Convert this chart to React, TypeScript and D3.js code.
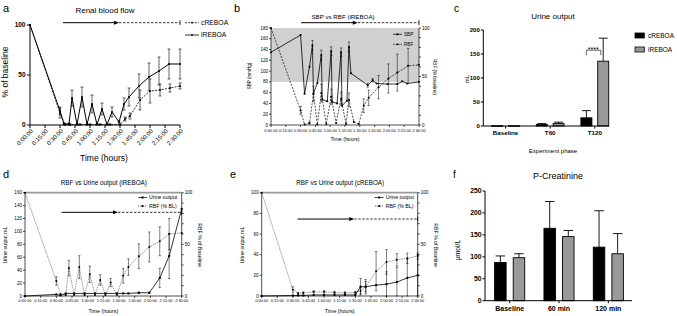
import React from "react";
import * as d3 from "d3";

const FONT = "'Liberation Sans', Arial, Helvetica, sans-serif";

// ---------- shared time axis ----------
const timeTicks = [0, 15, 30, 45, 60, 75, 90, 105, 120, 135, 150];
const timeTickLabels = ["0:00:00", "0:15:00", "0:30:00", "0:45:00", "1:00:00", "1:15:00", "1:30:00", "1:45:00", "2:00:00", "2:15:00", "2:30:00"];
const occlusionStart = 33;
const occlusionEnd = 89;

// ---------- panel a : renal blood flow ----------
const aYTicks = [0, 50, 100];
const aITime = [0, 30, 34, 39, 42, 47, 52, 57, 62, 67, 72, 77, 82, 89, 94, 99, 109, 119, 129, 139, 150];
const aIVal = [100, 14, 1, 1, 27, 0.5, 28, 0.5, 21, 0.5, 16, 0.5, 13, 3, 21, 28, 39, 48, 54, 61, 61];
const aIErr = [0, 4, 1, 1, 8, 0.5, 10, 0.5, 9, 0.5, 6, 0.5, 5, 1, 6, 9, 12, 14, 14, 15, 15];
const aCTime = [0, 30, 35, 40, 50, 60, 70, 80, 90, 95, 100, 110, 120, 130, 140, 150];
const aCVal = [100, 12, 0.5, 0.5, 0.5, 0.5, 0.5, 0.5, 0.5, 6, 9, 25, 34, 35, 37, 39];
const aCErr = [0, 5, 0.5, 0.5, 0.5, 0.5, 0.5, 0.5, 0.5, 2, 3, 10, 12, 6, 4, 3];

// ---------- panel b : SBP vs RBF (iREBOA) ----------
const bLeftTicks = [0, 20, 40, 60, 80, 100, 120, 140, 160, 180];
const bRightTicks = [0, 10, 20, 30, 40, 50, 60, 70, 80, 90, 100];
const bRightLabelTicks = [0, 50, 100];
const bBand = [80, 180];
const bSbpTime = [0, 30, 34, 39, 42, 43, 47, 51, 52, 57, 61, 62, 67, 71, 72, 77, 79, 81, 98, 103, 107, 118, 128, 133, 138, 150];
const bSbpVal = [135, 167, 58, 108, 148, 58, 78, 130, 47, 44, 137, 43, 40, 135, 36, 45, 145, 96, 74, 83, 77, 76, 76, 81, 77, 80];
const bSbpErr = [0, 0, 0, 0, 9, 0, 0, 9, 0, 0, 8, 0, 0, 8, 0, 0, 9, 0, 4, 3, 0, 0, 0, 0, 0, 0];
const bRbfTime = [0, 30, 34, 39, 43, 47, 51, 56, 61, 66, 71, 76, 79, 84, 89, 94, 99, 109, 119, 128, 139, 150];
const bRbfVal = [100, 15, 0.5, 2, 32, 0.5, 33, 1, 29, 2, 27, 1, 26, 3, 1, 20, 28, 39, 48, 54, 61, 62];
const bRbfErr = [0, 4, 0, 1, 8, 0, 9, 0, 8, 0, 7, 0, 7, 0, 0, 7, 8, 12, 15, 19, 18, 0];

// ---------- panel c : urine output ----------
const cCats = ["Baseline", "T60", "T120"];
const cYTicks = [0, 50, 100, 150, 200];
const cCVal = [0.5, 3, 17];
const cCErr = [0, 2, 15];
const cIVal = [0.5, 5, 135];
const cIErr = [0, 3, 48];

// ---------- panel d : RBF vs urine output (iREBOA) ----------
const dLeftTicks = [0, 20, 40, 60, 80, 100, 120, 140, 160];
const dUrTime = [0, 30, 34, 39, 47, 57, 67, 77, 88, 94, 99, 109, 119, 129, 138, 150];
const dUrVal = [0, 2.5, 1, 4, 4, 4, 4, 4, 4, 4, 4, 5, 5, 28, 62, 135];
const dUrErr = [0, 0, 0, 0, 0, 0, 0, 0, 0, 0, 0, 1, 1, 15, 35, 0];
const dRbfTime = [0, 30, 34, 39, 42, 47, 52, 57, 62, 67, 72, 77, 82, 88, 94, 99, 109, 119, 129, 138, 150];
const dRbfVal = [100, 14.5, 2, 1, 27, 1, 28, 1, 21, 1, 15.5, 1, 13, 1, 19.5, 28, 38.5, 47.5, 53, 60, 61];
const dRbfErr = [0, 4, 0, 0, 7.5, 0, 11, 0, 8, 0, 5, 0, 4, 0, 7, 8, 12, 14.5, 14, 15, 0];

// ---------- panel e : RBF vs urine output (cREBOA) ----------
const eLeftTicks = [0, 20, 40, 60, 80, 100];
const eTime = [0, 30, 35, 40, 50, 60, 70, 80, 90, 95, 100, 110, 120, 130, 140, 150];
const eUrVal = [0, 0.5, 0.5, 0.5, 1, 1, 1, 1, 1, 9, 9, 10.5, 11.5, 13.5, 17.5, 20];
const eUrErr = [0, 0, 0, 0, 0, 0, 0, 0, 0, 8, 7, 0, 12, 14, 18, 20];
const eRbfVal = [100, 6, 2.5, 3, 4, 4, 3.5, 3, 3.5, 5, 9, 24, 33, 35, 36.5, 38.7];
const eRbfErr = [0, 3, 1, 1, 1, 1, 1, 1, 1, 3, 5, 19, 12, 6, 5, 3];

// ---------- panel f : P-creatinine ----------
const fCats = ["Baseline", "60 min", "120 min"];
const fYTicks = [0, 50, 100, 150, 200, 250];
const fCVal = [87, 165, 122];
const fCErr = [15, 61, 83];
const fIVal = [98, 146, 107];
const fIErr = [9, 14, 46];

const rbfRightTicks = [0, 10, 20, 30, 40, 50, 60, 70, 80, 90, 100];
const rbfRightLabelTicks = [0, 50, 100];

function ErrorBars({ xs, ys, errs, x, y, cap = 1.5, sw = 0.6, floor = 0, color = "#000" }: any) {
  return (
    <g stroke={color} strokeWidth={sw}>
      {xs.map((t: number, i: number) => {
        const e = errs[i];
        if (!e) return null;
        const cx = x(t);
        const top = y(ys[i] + e);
        const bot = y(Math.max(floor, ys[i] - e));
        return (
          <g key={i}>
            <line x1={cx} x2={cx} y1={top} y2={bot} />
            <line x1={cx - cap} x2={cx + cap} y1={top} y2={top} />
            <line x1={cx - cap} x2={cx + cap} y1={bot} y2={bot} />
          </g>
        );
      })}
    </g>
  );
}

function LineSeries({ xs, ys, x, y, sw = 1, dash, stroke = "#000" }: any) {
  const d = d3.line()(xs.map((t: number, i: number) => [x(t), y(ys[i])] as [number, number]));
  return <path d={d || ""} fill="none" stroke={stroke} strokeWidth={sw} strokeDasharray={dash} strokeLinejoin="round" />;
}

function Markers({ xs, ys, x, y, shape = "circle", size = 1.2, fill = "#000" }: any) {
  return (
    <g fill={fill}>
      {xs.map((t: number, i: number) =>
        shape === "circle" ? (
          <circle key={i} cx={x(t)} cy={y(ys[i])} r={size} />
        ) : (
          <rect key={i} x={x(t) - size} y={y(ys[i]) - size} width={size * 2} height={size * 2} />
        )
      )}
    </g>
  );
}

function Arrow({ x1, x2, x3, y, head = 5, hw = 2, sw = 1 }: any) {
  return (
    <g>
      <line x1={x1} x2={x2 - head + 0.5} y1={y} y2={y} stroke="#000" strokeWidth={sw} />
      <polygon points={`${x2},${y} ${x2 - head},${y - hw} ${x2 - head},${y + hw}`} fill="#000" />
      <line x1={x2} x2={x3} y1={y} y2={y} stroke="#000" strokeWidth={sw * 0.8} strokeDasharray="2.5,1.5" />
      <line x1={x3} x2={x3} y1={y - 2.5} y2={y + 2.5} stroke="#000" strokeWidth={0.8} />
    </g>
  );
}

function AxisLeft({ scale, x, ticks, labelTicks, fs, len = 2.5, sw = 0.8, gap = 1, bold = false }: any) {
  const r = scale.range();
  const lt = labelTicks || ticks;
  return (
    <g>
      <line x1={x} x2={x} y1={r[0]} y2={r[1]} stroke="#000" strokeWidth={sw} />
      {ticks.map((t: number, i: number) => (
        <line key={i} x1={x - len} x2={x} y1={scale(t)} y2={scale(t)} stroke="#000" strokeWidth={sw} />
      ))}
      {lt.map((t: number, i: number) => (
        <text key={"l" + i} x={x - len - gap} y={scale(t)} dy="0.35em" textAnchor="end" fontSize={fs} fontWeight={bold ? "bold" : "normal"}>
          {String(t)}
        </text>
      ))}
    </g>
  );
}

function AxisRight({ scale, x, ticks, labelTicks, fs, len = 2, sw = 0.7, gap = 1 }: any) {
  const r = scale.range();
  const lt = labelTicks || ticks;
  return (
    <g>
      <line x1={x} x2={x} y1={r[0]} y2={r[1]} stroke="#000" strokeWidth={sw} />
      {ticks.map((t: number, i: number) => (
        <line key={i} x1={x} x2={x + len} y1={scale(t)} y2={scale(t)} stroke="#000" strokeWidth={sw} />
      ))}
      {lt.map((t: number, i: number) => (
        <text key={"l" + i} x={x + len + gap} y={scale(t)} dy="0.35em" textAnchor="start" fontSize={fs}>
          {String(t)}
        </text>
      ))}
    </g>
  );
}

function TimeAxisFlat({ x, y0, fs, len = 2, sw = 0.7 }: any) {
  const r = x.range();
  return (
    <g>
      <line x1={r[0]} x2={r[1]} y1={y0} y2={y0} stroke="#000" strokeWidth={sw} />
      {timeTicks.map((t, i) => (
        <line key={i} x1={x(t)} x2={x(t)} y1={y0} y2={y0 + len} stroke="#000" strokeWidth={sw} />
      ))}
      {timeTicks.map((t, i) => (
        <text key={"l" + i} x={x(t)} y={y0 + len + fs + 0.5} textAnchor="middle" fontSize={fs}>
          {timeTickLabels[i]}
        </text>
      ))}
    </g>
  );
}

function LegendItem({ x, y, w, label, dash, shape = "circle", fs, sw = 0.8, ms = 1.2 }: any) {
  return (
    <g>
      <line x1={x} x2={x + w} y1={y} y2={y} stroke="#000" strokeWidth={sw} strokeDasharray={dash} />
      {shape === "circle" ? (
        <circle cx={x + w / 2} cy={y} r={ms} fill="#000" />
      ) : (
        <rect x={x + w / 2 - ms} y={y - ms} width={ms * 2} height={ms * 2} fill="#000" />
      )}
      <text x={x + w + 2} y={y} dy="0.35em" fontSize={fs}>
        {label}
      </text>
    </g>
  );
}

function PanelA() {
  const x = d3.scaleLinear().domain([0, 150]).range([30, 180]);
  const y = d3.scaleLinear().domain([0, 100]).range([125, 25]);
  return (
    <g>
      <text x={3} y={12} fontSize={11}>a</text>
      <text x={105} y={13} fontSize={8} textAnchor="middle">Renal blood flow</text>
      <Arrow x1={x(occlusionStart)} x2={x(occlusionEnd)} x3={x(150)} y={y(102.3)} />
      <AxisLeft scale={y} x={30} ticks={aYTicks} fs={6.5} len={3} sw={1} gap={1.5} bold />
      <line x1={30} x2={180} y1={125} y2={125} stroke="#000" strokeWidth={1} />
      {timeTicks.map((t, i) => (
        <g key={i}>
          <line x1={x(t)} x2={x(t)} y1={125} y2={128} stroke="#000" strokeWidth={1} />
          <text transform={`translate(${x(t) + 2},${130}) rotate(-45)`} textAnchor="end" dy="0.35em" fontSize={6}>
            {timeTickLabels[i]}
          </text>
        </g>
      ))}
      <ErrorBars xs={aCTime} ys={aCVal} errs={aCErr} x={x} y={y} cap={1.5} />
      <ErrorBars xs={aITime} ys={aIVal} errs={aIErr} x={x} y={y} cap={1.5} />
      <LineSeries xs={aCTime} ys={aCVal} x={x} y={y} sw={0.8} dash="2,1.3" />
      <LineSeries xs={aITime} ys={aIVal} x={x} y={y} sw={1} />
      <Markers xs={aCTime} ys={aCVal} x={x} y={y} size={1} />
      <Markers xs={aITime} ys={aIVal} x={x} y={y} size={1} />
      <text transform="translate(8,72) rotate(-90)" textAnchor="middle" fontSize={8.5}>% of baseline</text>
      <text x={104} y={161} textAnchor="middle" fontSize={8.5}>Time (hours)</text>
      <LegendItem x={185} y={22.7} w={14} label="cREBOA" dash="2,1.3" fs={6.8} ms={0.9} />
      <LegendItem x={185} y={35} w={14} label="iREBOA" fs={6.8} ms={0.9} />
    </g>
  );
}

function PanelB() {
  const x = d3.scaleLinear().domain([0, 150]).range([271, 419]);
  const yL = d3.scaleLinear().domain([0, 180]).range([125, 28]);
  const yR = d3.scaleLinear().domain([0, 100]).range([125, 28]);
  return (
    <g>
      <text x={234} y={12} fontSize={11}>b</text>
      <text x={343} y={19} fontSize={6.2} textAnchor="middle">SBP vs RBF (iREBOA)</text>
      <Arrow x1={x(occlusionStart - 2.5)} x2={x(occlusionEnd - 1)} x3={x(150)} y={22.7} head={5} />
      <rect x={271} y={yL(bBand[1])} width={148} height={yL(bBand[0]) - yL(bBand[1])} fill="#d0d0d0" />
      <AxisLeft scale={yL} x={271} ticks={bLeftTicks} fs={4.5} len={2} sw={0.7} gap={1} />
      <AxisRight scale={yR} x={419} ticks={bRightTicks} labelTicks={bRightLabelTicks} fs={4.5} len={2} sw={0.7} gap={1} />
      <TimeAxisFlat x={x} y0={125} fs={4} len={2} />
      <ErrorBars xs={bRbfTime} ys={bRbfVal} errs={bRbfErr} x={x} y={yR} cap={1.2} sw={0.5} />
      <ErrorBars xs={bSbpTime} ys={bSbpVal} errs={bSbpErr} x={x} y={yL} cap={1.2} sw={0.5} />
      <LineSeries xs={bRbfTime} ys={bRbfVal} x={x} y={yR} sw={0.7} dash="2,1.3" />
      <LineSeries xs={bSbpTime} ys={bSbpVal} x={x} y={yL} sw={0.8} />
      <Markers xs={bRbfTime} ys={bRbfVal} x={x} y={yR} size={1} />
      <Markers xs={bSbpTime} ys={bSbpVal} x={x} y={yL} shape="square" size={0.9} />
      <LegendItem x={393} y={34.3} w={9} label="SBP" fs={4.6} sw={0.7} ms={0.9} shape="square" />
      <LegendItem x={393} y={44.3} w={9} label="RBF" dash="1.5,1" fs={4.6} sw={0.7} ms={0.9} />
      <text transform="translate(251,76) rotate(-90)" textAnchor="middle" fontSize={4.5}>SBP (mmHg)</text>
      <text transform="translate(433,77) rotate(90)" textAnchor="middle" fontSize={4.6}>RBF (% baseline)</text>
      <text x={345} y={141} textAnchor="middle" fontSize={5.2}>Time (hours)</text>
    </g>
  );
}

function BarPanel({ cats, cVal, cErr, iVal, iErr, yTicks, yMax, x0, x1, xEnd, yTop, yBot, bw, off, fsTick, fsCat }: any) {
  const x = d3.scaleBand().domain(cats).range([x0, x1]);
  const y = d3.scaleLinear().domain([0, yMax]).range([yBot, yTop]);
  const bars: any[] = [];
  cats.forEach((c: string, i: number) => {
    const cx = (x(c) as number) + x.bandwidth() / 2;
    [
      { v: cVal[i], e: cErr[i], dx: -off, fill: "#000" },
      { v: iVal[i], e: iErr[i], dx: off, fill: "#999999" },
    ].forEach((b, j) => {
      const bx = cx + b.dx;
      const top = y(b.v);
      bars.push(
        <g key={c + j}>
          {b.e > 0 && (
            <g stroke="#000" strokeWidth={0.9}>
              <line x1={bx} x2={bx} y1={top} y2={y(b.v + b.e)} />
              <line x1={bx - bw / 2 + 1} x2={bx + bw / 2 - 1} y1={y(b.v + b.e)} y2={y(b.v + b.e)} />
            </g>
          )}
          <rect x={bx - bw / 2} y={top} width={bw} height={Math.max(0.6, yBot - top)} fill={b.fill} stroke="#000" strokeWidth={0.9} />
        </g>
      );
    });
  });
  return (
    <g>
      {bars}
      <AxisLeft scale={y} x={x0} ticks={yTicks} fs={fsTick} len={2.5} sw={1} gap={1} bold />
      <line x1={x0} x2={xEnd} y1={yBot} y2={yBot} stroke="#000" strokeWidth={1} />
      {cats.map((c: string, i: number) => {
        const cx = (x(c) as number) + x.bandwidth() / 2;
        return (
          <g key={"t" + i}>
            <line x1={cx} x2={cx} y1={yBot} y2={yBot + 2.5} stroke="#000" strokeWidth={1} />
            <text x={cx} y={yBot + 3 + fsCat} textAnchor="middle" fontSize={fsCat} fontWeight="bold">
              {c}
            </text>
          </g>
        );
      })}
    </g>
  );
}

function PanelC() {
  const y = d3.scaleLinear().domain([0, 200]).range([126, 30]);
  const x = d3.scaleBand().domain(cCats).range([483.3, 617.1]);
  const cx = (x("T120") as number) + x.bandwidth() / 2;
  const bracketY = y(cIVal[2] + cIErr[2]) + 12;
  return (
    <g>
      <text x={454} y={12} fontSize={10}>c</text>
      <text x={553} y={18.5} fontSize={8} textAnchor="middle">Urine output</text>
      <BarPanel cats={cCats} cVal={cCVal} cErr={cCErr} iVal={cIVal} iErr={cIErr} yTicks={cYTicks} yMax={200}
        x0={483.3} x1={617.1} xEnd={609} yTop={30} yBot={126} bw={11} off={8.4} fsTick={6} fsCat={6.2} />
      <path d={`M${cx - 8.4},${bracketY + 5} V${bracketY} H${cx + 6} V${bracketY + 5}`} fill="none" stroke="#000" strokeWidth={0.6} />
      <text x={cx - 1.5} y={bracketY + 1.5} fontSize={7} textAnchor="middle">****</text>
      <text transform="translate(469,79) rotate(-90)" textAnchor="middle" fontSize={6}>mL</text>
      <text x={553} y={153} textAnchor="middle" fontSize={6}>Experiment phase</text>
      <rect x={635} y={33} width={9.3} height={5} fill="#000" stroke="#000" strokeWidth={0.8} />
      <text x={648} y={35.5} dy="0.35em" fontSize={6.5}>cREBOA</text>
      <rect x={635} y={47} width={9.3} height={5} fill="#999999" stroke="#000" strokeWidth={0.8} />
      <text x={648} y={49.5} dy="0.35em" fontSize={6.5}>iREBOA</text>
    </g>
  );
}

function PanelF() {
  return (
    <g>
      <text x={453} y={178} fontSize={10}>f</text>
      <text x={558} y={178.5} fontSize={9} textAnchor="middle">P-Creatinine</text>
      <BarPanel cats={fCats} cVal={fCVal} cErr={fCErr} iVal={fIVal} iErr={fIErr} yTicks={fYTicks} yMax={250}
        x0={485} x1={633} xEnd={632} yTop={191} yBot={300.7} bw={11.5} off={9.3} fsTick={6.8} fsCat={7} />
      <text transform="translate(460,250) rotate(-90)" textAnchor="middle" fontSize={6.8}>μmol/L</text>
    </g>
  );
}

function RbfUrinePanel({ letter, lx, title, x0, x1, leftMax, leftTicks, urTime, urVal, urErr, rbfTime, rbfVal, rbfErr, arrowY, arrowStart }: any) {
  const x = d3.scaleLinear().domain([0, 150]).range([x0, x1]);
  const yL = d3.scaleLinear().domain([0, leftMax]).range([296, 192.7]);
  const yR = d3.scaleLinear().domain([0, 100]).range([296, 192.7]);
  const cxm = (x0 + x1) / 2;
  return (
    <g>
      <text x={lx} y={178} fontSize={11}>{letter}</text>
      <text x={cxm + 0.5} y={184.5} fontSize={6.3} textAnchor="middle">{title}</text>
      <line x1={x0} x2={x1} y1={yR(100)} y2={yR(100)} stroke="#9a9a9a" strokeWidth={1.8} />
      <AxisLeft scale={yL} x={x0} ticks={leftTicks} fs={4.6} len={2} sw={0.7} gap={1} />
      <AxisRight scale={yR} x={x1} ticks={rbfRightTicks} labelTicks={rbfRightLabelTicks} fs={4.6} len={2} sw={0.7} gap={1} />
      <TimeAxisFlat x={x} y0={296} fs={3.9} len={2} />
      <Arrow x1={x(arrowStart)} x2={x(occlusionEnd)} x3={x1} y={yR(arrowY)} head={5} />
      <ErrorBars xs={rbfTime} ys={rbfVal} errs={rbfErr} x={x} y={yR} cap={1.2} sw={0.5} />
      <ErrorBars xs={urTime} ys={urVal} errs={urErr} x={x} y={yL} cap={1.2} sw={0.5} />
      <LineSeries xs={rbfTime} ys={rbfVal} x={x} y={yR} sw={0.5} dash="1.5,0.8" stroke="#333" />
      <LineSeries xs={urTime} ys={urVal} x={x} y={yL} sw={0.8} />
      <Markers xs={rbfTime} ys={rbfVal} x={x} y={yR} size={1} />
      <Markers xs={urTime} ys={urVal} x={x} y={yL} shape="square" size={1} />
      <LegendItem x={x0 + 113} y={197.5} w={9} label="Urine output" fs={5.2} sw={0.7} ms={1} shape="square" />
      <LegendItem x={x0 + 113} y={206} w={9} label="RBF (% BL)" dash="1.5,0.8" fs={5.2} sw={0.6} ms={1} />
      <text transform={`translate(${x0 - 18},245) rotate(-90)`} textAnchor="middle" fontSize={5.2}>Urine output mL</text>
      <text transform={`translate(${x1 + 16},245) rotate(90)`} textAnchor="middle" fontSize={5.2}>RBF % of Baseline</text>
      <text x={cxm} y={313} textAnchor="middle" fontSize={5.3}>Time (hours)</text>
    </g>
  );
}

export default function App() {
  return (
    <svg width={677} height={316} style={{ position: "absolute", left: 0, top: 0, background: "#fff" }} fontFamily={FONT}>
      <rect x={0} y={0} width={677} height={316} fill="#fff" />
      <PanelA />
      <PanelB />
      <PanelC />
      <RbfUrinePanel letter="d" lx={3} title="RBF vs Urine output (iREBOA)" x0={25} x1={181.7} leftMax={160} leftTicks={dLeftTicks}
        urTime={dUrTime} urVal={dUrVal} urErr={dUrErr} rbfTime={dRbfTime} rbfVal={dRbfVal} rbfErr={dRbfErr} arrowY={81} arrowStart={35} />
      <RbfUrinePanel letter="e" lx={230} title="RBF vs Urine output (cREBOA)" x0={261.7} x1={417.7} leftMax={100} leftTicks={eLeftTicks}
        urTime={eTime} urVal={eUrVal} urErr={eUrErr} rbfTime={eTime} rbfVal={eRbfVal} rbfErr={eRbfErr} arrowY={74.5} arrowStart={34.5} />
      <PanelF />
    </svg>
  );
}
